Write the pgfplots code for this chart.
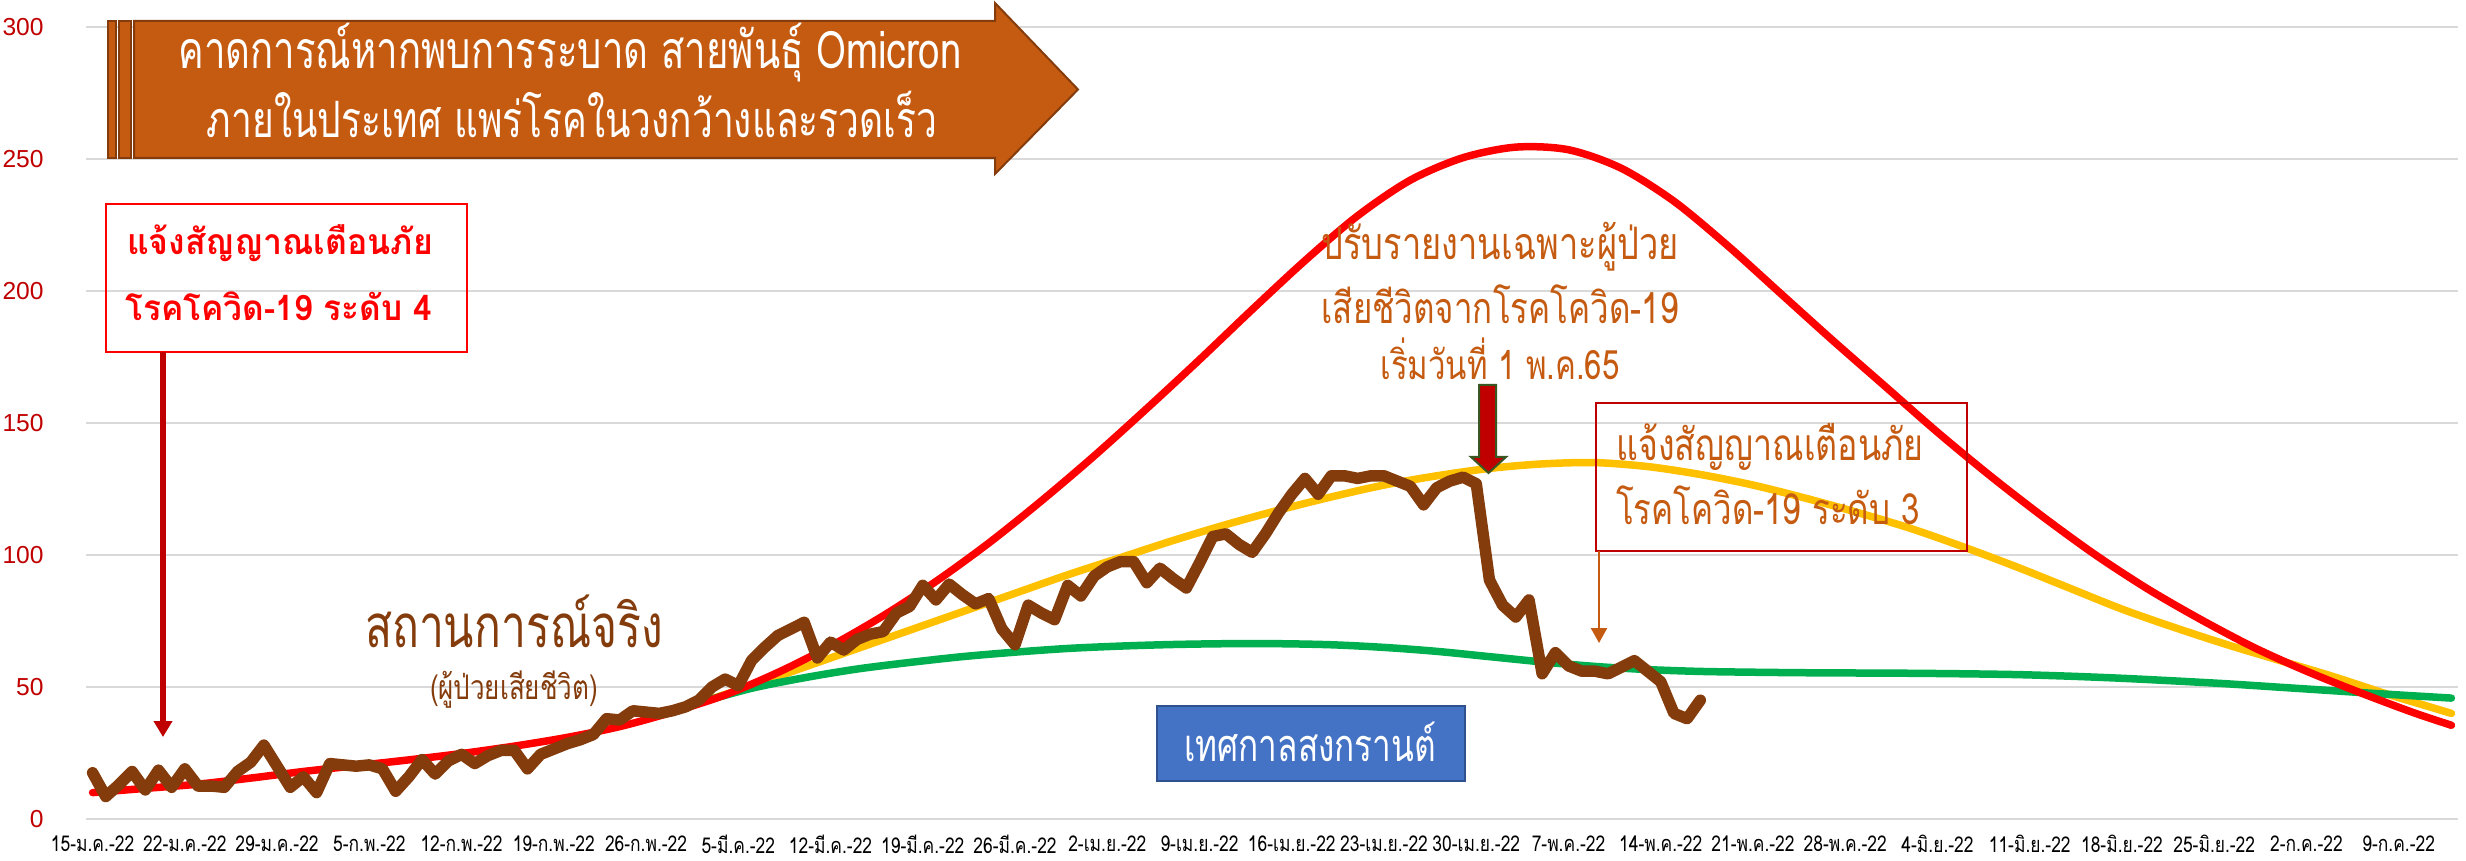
\documentclass[border=0pt]{standalone}
\usepackage{fontspec}
\usepackage{graphicx}
\usepackage{pgfplots}
\pgfplotsset{compat=1.18}
\usetikzlibrary{arrows.meta}
\setmainfont{Liberation Sans}
\newfontfamily\thai[Script=Thai]{Loma}

\definecolor{cred}{HTML}{FF0000}
\definecolor{cyellow}{HTML}{FFC000}
\definecolor{cgreen}{HTML}{00B050}
\definecolor{cbrown}{HTML}{843C0C}
\definecolor{corange}{HTML}{C55A11}
\definecolor{dred}{HTML}{C00000}
\definecolor{gridgray}{HTML}{D9D9D9}
\definecolor{cblue}{HTML}{4472C4}
\definecolor{cblueb}{HTML}{2F528F}
\definecolor{dgreen}{HTML}{385723}

% text of given width, with a vertical stretch
\newcommand{\tw}[3]{\scalebox{1}[#2]{\resizebox{#1}{!}{\thai #3}}}

\begin{document}
\begin{tikzpicture}
\useasboundingbox (0,0) rectangle (24.66,8.6);
\begin{axis}[
  at={(0.86cm,0.41cm)}, anchor=south west,
  scale only axis, width=23.72cm, height=7.92cm,
  xmin=-0.5, xmax=179.5, ymin=0, ymax=300,
  axis line style={draw=none},
  major tick length=0pt,
  ymajorgrids, grid style={color=gridgray, line width=0.55pt},
  ytick={0,50,...,300},
  xtick={0,7,...,175},
  xticklabels={15-ม.ค.-22,22-ม.ค.-22,29-ม.ค.-22,5-ก.พ.-22,12-ก.พ.-22,19-ก.พ.-22,26-ก.พ.-22,5-มี.ค.-22,12-มี.ค.-22,19-มี.ค.-22,26-มี.ค.-22,2-เม.ย.-22,9-เม.ย.-22,16-เม.ย.-22,23-เม.ย.-22,30-เม.ย.-22,7-พ.ค.-22,14-พ.ค.-22,21-พ.ค.-22,28-พ.ค.-22,4-มิ.ย.-22,11-มิ.ย.-22,18-มิ.ย.-22,25-มิ.ย.-22,2-ก.ค.-22,9-ก.ค.-22},
  xticklabel style={font=\thai\fontsize{6.2}{7}\selectfont, xscale=0.8, yshift=-0.04cm},
  yticklabel style={font=\fontsize{7}{8}\selectfont, text=dred, xshift=-0.3cm},
  /pgf/number format/assume math mode=true,
  clip=false,
]
% scenario: yellow
\addplot[cyellow, line width=0.075cm, smooth, line cap=round, line join=round] coordinates {
(42,38) (46,44) (50,50.5) (54,57.5) (58,64.5) (62,71.5) (66,78.5) (70,85.5) (74,92.5)
(78,99) (82,105.5) (86,111.5) (90,117) (94,122) (98,126.5) (102,130) (106,132.8)
(110,134.5) (114,135) (118,133.5) (122,130.5) (126,126.5) (130,121.5) (134,116)
(138,110) (142,103) (146,95.5) (150,87.5) (154,79.5) (158,72.5) (162,66) (166,60)
(170,54) (174,47.5) (177,43) (179,40)};
% scenario: green
\addplot[cgreen, line width=0.075cm, smooth, line cap=round, line join=round] coordinates {
(42,38) (46,44) (50,49.5) (54,53.5) (58,56.8) (62,59.3) (66,61.5) (70,63.2) (74,64.6)
(78,65.5) (82,66.1) (86,66.4) (90,66.4) (94,66) (98,65) (102,63.5) (106,61.5) (110,59.5)
(114,57.8) (118,56.6) (122,55.9) (126,55.6) (130,55.4) (134,55.3) (138,55.2) (142,55)
(146,54.7) (150,54.1) (154,53.3) (158,52.3) (162,51.2) (166,49.9) (170,48.6) (174,47.3)
(179,45.8)};
% scenario: red
\addplot[cred, line width=0.075cm, smooth, line cap=round, line join=round] coordinates {
(0,10) (4,11.6) (8,13.2) (12,15.5) (16,18) (20,20.2) (24,22.4) (28,24.8) (32,27.6)
(36,30.9) (40,35) (44,40.5) (48,47) (52,55.5) (56,65.5) (60,77) (64,90) (68,104.5)
(72,120.5) (76,137.5) (80,155.5) (84,174) (88,193) (92,211.5) (96,228.5) (100,242)
(104,250.5) (108,254.5) (112,253.5) (116,246.5) (120,234) (124,217.5) (128,199.5)
(132,181.5) (136,164) (140,146.5) (144,130) (148,114.5) (152,100) (156,87) (160,75.5)
(164,65) (168,56) (172,48) (176,40.5) (179,35.5)};
% actual deaths
\addplot[cbrown, line width=0.115cm, line cap=round, line join=round] coordinates {
(0,17.5) (1,8.5) (2,13) (3,18) (4,11) (5,18.5) (6,12) (7,19) (8,12.5) (9,12.5)
(10,12) (11,18) (12,21.5) (13,28) (14,20) (15,12) (16,16) (17,10) (18,21) (19,20.5)
(20,20) (21,20.5) (22,19) (23,10.5) (24,16) (25,22.5) (26,17) (27,22) (28,24.5) (29,21)
(30,24) (31,26) (32,26) (33,19) (34,24.5) (35,26.5) (36,28.5) (37,30) (38,32) (39,38)
(40,37.5) (41,41) (42,40.5) (43,40) (44,41) (45,42.5) (46,45) (47,50) (48,53) (49,50.5)
(50,60) (51,65) (52,69.5) (53,72) (54,74.5) (55,61) (56,67) (57,64) (58,68) (59,70)
(60,71) (61,78) (62,80.5) (63,88.5) (64,83) (65,89) (66,85) (67,81.5) (68,83.5) (69,72)
(70,66) (71,81) (72,78) (73,75.5) (74,88.5) (75,84.5) (76,92) (77,95.5) (78,97.5) (79,97.5)
(80,89.5) (81,95) (82,91) (83,87.5) (84,97) (85,107) (86,108) (87,104) (88,101) (89,108)
(90,116) (91,123) (92,129) (93,123) (94,130) (95,130) (96,129) (97,130) (98,130) (99,128)
(100,126) (101,119) (102,125.5) (103,128) (104,129.5) (105,127) (106,90.5) (107,81) (108,76.5) (109,83)
(110,55) (111,63) (112,58) (113,56) (114,56) (115,55) (116,57.5) (117,60) (118,56) (119,52)
(120,40) (121,38) (122,45)};
\end{axis}

% title arrow
\filldraw[fill=corange, draw=cbrown, line width=0.02cm] (1.08,8.39) rectangle (1.16,7.02);
\filldraw[fill=corange, draw=cbrown, line width=0.02cm] (1.19,8.39) rectangle (1.31,7.02);
\filldraw[fill=corange, draw=cbrown, line width=0.02cm]
  (1.34,8.39) -- (9.95,8.39) -- (9.95,8.57) -- (10.78,7.705) -- (9.95,6.86) -- (9.95,7.02) -- (1.34,7.02) -- cycle;
\node[text=white, inner sep=0] at (5.70,8.07) {\tw{7.83cm}{1.35}{คาดการณ์หากพบการระบาด สายพันธุ์ Omicron}};
\node[text=white, inner sep=0] at (5.72,7.46) {\tw{7.30cm}{1.35}{ภายในประเทศ แพร่โรคในวงกว้างและรวดเร็ว}};

% level 4 box
\draw[cred, line width=0.02cm] (1.06,6.56) rectangle (4.67,5.08);
\node[text=cred, inner sep=0] at (2.80,6.17) {\tw{3.06cm}{1.05}{\bfseries แจ้งสัญญาณเตือนภัย}};
\node[text=cred, inner sep=0] at (2.79,5.54) {\tw{3.07cm}{1.05}{\bfseries โรคโควิด-19 ระดับ 4}};
\draw[dred, line width=0.055cm, -{Triangle[width=0.18cm,length=0.16cm]}] (1.63,5.08) -- (1.63,1.23);

% actual situation
\node[text=cbrown, inner sep=0] at (5.14,2.39) {\tw{2.98cm}{1.35}{สถานการณ์จริง}};
\node[text=cbrown, inner sep=0] at (5.14,1.70) {\tw{1.68cm}{1.3}{(ผู้ป่วยเสียชีวิต)}};

% reporting change
\node[text=corange, inner sep=0] at (15.00,6.13) {\tw{3.57cm}{1.3}{ปรับรายงานเฉพาะผู้ป่วย}};
\node[text=corange, inner sep=0] at (15.00,5.56) {\tw{3.57cm}{1.3}{เสียชีวิตจากโรคโควิด-19}};
\node[text=corange, inner sep=0] at (15.00,5.01) {\tw{2.39cm}{1.3}{เริ่มวันที่ 1 พ.ค.65}};
\filldraw[fill=dred, draw=dgreen, line width=0.02cm]
  (14.79,4.75) -- (14.96,4.75) -- (14.96,4.03) -- (15.06,4.03) -- (14.885,3.87) -- (14.71,4.03) -- (14.79,4.03) -- cycle;

% level 3 box
\draw[dred, line width=0.02cm] (15.96,4.57) rectangle (19.67,3.09);
\node[text=corange, inner sep=0] at (17.70,4.13) {\tw{3.07cm}{1.3}{แจ้งสัญญาณเตือนภัย}};
\node[text=corange, inner sep=0] at (17.68,3.55) {\tw{3.04cm}{1.3}{โรคโควิด-19 ระดับ 3}};
\draw[corange, line width=0.025cm, -{Triangle[width=0.16cm,length=0.15cm]}] (15.99,3.09) -- (15.99,2.17);

% songkran
\filldraw[fill=cblue, draw=cblueb, line width=0.02cm] (11.57,1.54) rectangle (14.65,0.79);
\node[text=white, inner sep=0] at (13.10,1.18) {\tw{2.52cm}{1.35}{เทศกาลสงกรานต์}};
\end{tikzpicture}
\end{document}
